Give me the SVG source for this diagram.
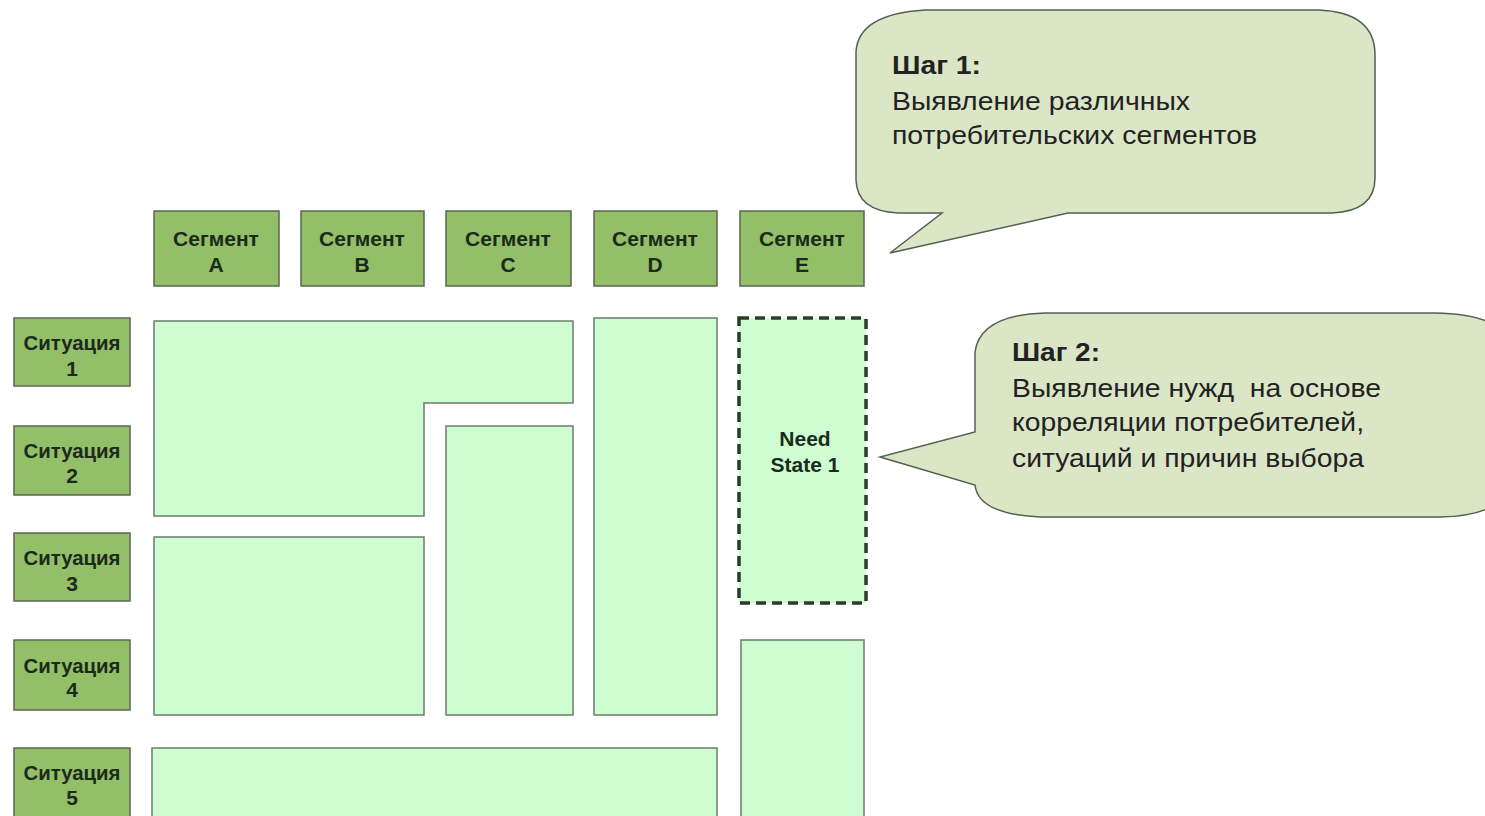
<svg xmlns="http://www.w3.org/2000/svg" width="1485" height="816" viewBox="0 0 1485 816">
  <style>
    .hdr { fill: #92bf68; stroke: #5b6652; stroke-width: 1.5; }
    .hdr-t { font-family: "Liberation Sans", Arial, sans-serif; font-weight: bold; font-size: 21px; fill: #1c2a1c; text-anchor: middle; }
    .cell { fill: #cdfdd0; stroke: #6c7c6c; stroke-width: 1.5; }
    .need { fill: #cdfdd0; stroke: #2b3a2b; stroke-width: 3.5; stroke-dasharray: 10 6; }
    .call { fill: #dbe6c6; stroke: #555f50; stroke-width: 1.5; }
    .call-t { font-family: "Liberation Sans", Arial, sans-serif; font-size: 25px; fill: #222; }
    .call-b { font-weight: bold; }
  </style>
  <rect width="1485" height="816" fill="#ffffff"/>

  <!-- segment headers -->
  <g id="seg-a"><rect class="hdr" x="154" y="211" width="125" height="75"/><text class="hdr-t" x="216" y="246">Сегмент</text><text class="hdr-t" x="216" y="272">A</text></g>
  <g id="seg-b"><rect class="hdr" x="301" y="211" width="123" height="75"/><text class="hdr-t" x="362" y="246">Сегмент</text><text class="hdr-t" x="362" y="272">B</text></g>
  <g id="seg-c"><rect class="hdr" x="446" y="211" width="125" height="75"/><text class="hdr-t" x="508" y="246">Сегмент</text><text class="hdr-t" x="508" y="272">C</text></g>
  <g id="seg-d"><rect class="hdr" x="594" y="211" width="123" height="75"/><text class="hdr-t" x="655" y="246">Сегмент</text><text class="hdr-t" x="655" y="272">D</text></g>
  <g id="seg-e"><rect class="hdr" x="740" y="211" width="124" height="75"/><text class="hdr-t" x="802" y="246">Сегмент</text><text class="hdr-t" x="802" y="272">E</text></g>

  <!-- situation rows -->
  <g id="sit-1"><rect class="hdr" x="14" y="318" width="116" height="68"/><text class="hdr-t" x="72" y="350" textLength="97" lengthAdjust="spacingAndGlyphs">Ситуация</text><text class="hdr-t" x="72" y="376">1</text></g>
  <g id="sit-2"><rect class="hdr" x="14" y="426" width="116" height="69"/><text class="hdr-t" x="72" y="458" textLength="97" lengthAdjust="spacingAndGlyphs">Ситуация</text><text class="hdr-t" x="72" y="483">2</text></g>
  <g id="sit-3"><rect class="hdr" x="14" y="533" width="116" height="68"/><text class="hdr-t" x="72" y="565" textLength="97" lengthAdjust="spacingAndGlyphs">Ситуация</text><text class="hdr-t" x="72" y="591">3</text></g>
  <g id="sit-4"><rect class="hdr" x="14" y="640" width="116" height="70"/><text class="hdr-t" x="72" y="673" textLength="97" lengthAdjust="spacingAndGlyphs">Ситуация</text><text class="hdr-t" x="72" y="697">4</text></g>
  <g id="sit-5"><rect class="hdr" x="14" y="748" width="116" height="72"/><text class="hdr-t" x="72" y="780" textLength="97" lengthAdjust="spacingAndGlyphs">Ситуация</text><text class="hdr-t" x="72" y="805">5</text></g>

  <!-- need-state cells -->
  <g id="cell-ab12"><path class="cell" d="M154 321 H573 V403 H424 V516 H154 Z"/></g>
  <g id="cell-c24"><rect class="cell" x="446" y="426" width="127" height="289"/></g>
  <g id="cell-d14"><rect class="cell" x="594" y="318" width="123" height="397"/></g>
  <g id="cell-ab34"><rect class="cell" x="154" y="537" width="270" height="178"/></g>
  <g id="cell-ad5"><rect class="cell" x="152" y="748" width="565" height="80"/></g>
  <g id="cell-e45"><rect class="cell" x="741" y="640" width="123" height="190"/></g>
  <g id="need-state-1">
    <rect class="need" x="739" y="318" width="127" height="285"/>
    <text class="hdr-t" x="805" y="446">Need</text>
    <text class="hdr-t" x="805" y="472">State 1</text>
  </g>

  <!-- callouts -->
  <g id="callout-1">
    <path class="call" d="M925 10 H1318 Q1375 12 1375 55 V178 Q1375 211 1332 213 H1068 L890 253 L942 213 H898 Q857 211 856 180 V52 Q858 14 925 10 Z"/>
    <text class="call-t call-b" x="892" y="74" textLength="89" lengthAdjust="spacingAndGlyphs">Шаг 1:</text>
    <text class="call-t" x="892" y="110" textLength="298" lengthAdjust="spacingAndGlyphs">Выявление различных</text>
    <text class="call-t" x="892" y="144" textLength="365" lengthAdjust="spacingAndGlyphs">потребительских сегментов</text>
  </g>
  <g id="callout-2">
    <path class="call" d="M1045 313 H1435 Q1485 314 1500 330 V500 Q1485 516 1440 517 H1040 Q978 514 975 485 L880 457 L975 432 V352 Q980 315 1045 313 Z"/>
    <text class="call-t call-b" x="1012" y="361" textLength="88" lengthAdjust="spacingAndGlyphs">Шаг 2:</text>
    <text class="call-t" x="1012" y="397" textLength="369" lengthAdjust="spacingAndGlyphs" xml:space="preserve">Выявление нужд  на основе</text>
    <text class="call-t" x="1012" y="431" textLength="352" lengthAdjust="spacingAndGlyphs">корреляции потребителей,</text>
    <text class="call-t" x="1012" y="467" textLength="352" lengthAdjust="spacingAndGlyphs">ситуаций и причин выбора</text>
  </g>
</svg>
